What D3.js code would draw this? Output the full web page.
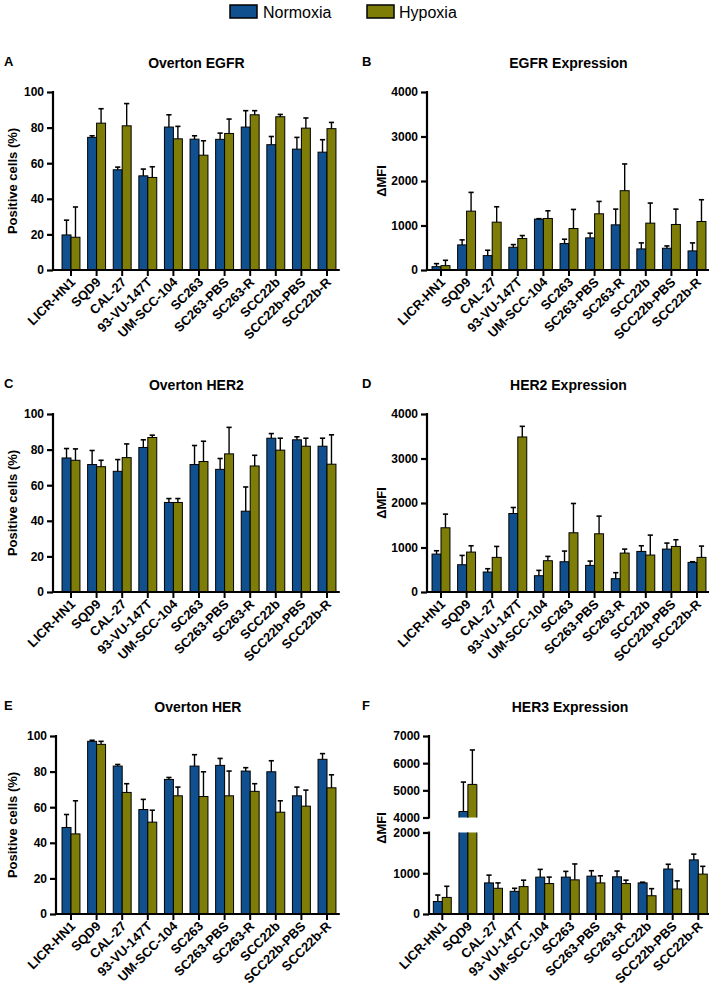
<!DOCTYPE html>
<html><head><meta charset="utf-8">
<script src="https://cdn.jsdelivr.net/npm/d3@7"></script>
<style>body{margin:0;background:#fff;} svg{display:block;font-family:'Liberation Sans',Arial,Helvetica,sans-serif;}</style>
</head><body><svg id="c" width="709" height="990"></svg>
<script>
const categories = ["LICR-HN1","SQD9","CAL-27","93-VU-147T","UM-SCC-104","SC263","SC263-PBS","SC263-R","SCC22b","SCC22b-PBS","SCC22b-R"];
const seriesNames = ["Normoxia","Hypoxia"];

// A: Overton EGFR (% positive cells)
const overtonEGFR_N    = [19.7, 74.5, 56.3, 52.9, 80.3, 73.5, 73.4, 80.3, 70.4, 67.9, 66.2];
const overtonEGFR_Nerr = [8.3, 0.9, 1.5, 3.8, 6.9, 1.9, 3.5, 9.2, 4.6, 6.6, 7.0];
const overtonEGFR_H    = [18.4, 82.5, 81.0, 52.0, 73.7, 64.5, 76.7, 87.2, 86.1, 79.7, 79.4];
const overtonEGFR_Herr = [17.0, 8.1, 12.5, 6.0, 7.0, 8.1, 8.1, 2.3, 1.3, 5.7, 3.5];
// B: EGFR Expression (ΔMFI)
const exprEGFR_N    = [75, 564, 323, 511, 1143, 594, 722, 1015, 474, 489, 429];
const exprEGFR_Nerr = [68, 113, 121, 60, 10, 98, 105, 353, 135, 52, 180];
const exprEGFR_H    = [98, 1323, 1075, 707, 1158, 932, 1263, 1782, 1053, 1023, 1090];
const exprEGFR_Herr = [120, 421, 346, 67, 173, 429, 278, 601, 451, 345, 489];
// C: Overton HER2
const overtonHER2_N    = [75.3, 71.6, 67.8, 81.2, 50.3, 71.6, 68.9, 45.4, 86.4, 85.5, 81.9];
const overtonHER2_Nerr = [5.3, 7.9, 6.6, 4.3, 2.2, 10.7, 6.1, 13.6, 2.6, 1.7, 4.5];
const overtonHER2_H    = [74.0, 70.4, 75.5, 86.8, 50.3, 73.3, 77.6, 70.8, 79.7, 81.9, 71.8];
const overtonHER2_Herr = [6.4, 3.6, 7.7, 1.3, 2.2, 11.4, 14.9, 6.0, 6.7, 4.5, 16.5];
// D: HER2 Expression
const exprHER2_N    = [852, 613, 449, 1764, 366, 680, 598, 299, 912, 964, 665];
const exprHER2_Nerr = [75, 209, 74, 135, 120, 240, 97, 135, 127, 135, 15];
const exprHER2_H    = [1443, 897, 778, 3484, 703, 1331, 1308, 875, 830, 1024, 778];
const exprHER2_Herr = [307, 142, 246, 239, 97, 658, 397, 89, 448, 150, 254];
// E: Overton HER
const overtonHER_N    = [48.6, 97.0, 83.1, 58.7, 75.6, 83.1, 83.5, 80.3, 79.9, 66.4, 86.9];
const overtonHER_Nerr = [7.3, 0.6, 0.9, 5.7, 1.1, 6.4, 3.9, 1.9, 6.2, 4.9, 3.2];
const overtonHER_H    = [45.0, 95.3, 68.3, 51.6, 66.4, 66.0, 66.4, 68.9, 57.2, 60.6, 70.9];
const overtonHER_Herr = [18.6, 1.7, 4.9, 6.7, 4.9, 13.9, 13.9, 4.3, 6.4, 9.0, 7.3];
// F: HER3 Expression (broken axis)
const exprHER3_N    = [307, 4221, 763, 556, 905, 905, 929, 913, 763, 1104, 1328];
const exprHER3_Nerr = [158, 1083, 191, 75, 190, 141, 133, 141, 17, 116, 141];
const exprHER3_H    = [407, 5218, 631, 672, 747, 838, 763, 747, 448, 614, 979];
const exprHER3_Herr = [273, 1267, 132, 158, 158, 390, 175, 83, 174, 199, 191];

const pctTicks = [0, 20, 40, 60, 80, 100];
const mfiTicks = [0, 1000, 2000, 3000, 4000];
const her3LowTicks = [0, 1000, 2000];
const her3HighTicks = [4000, 5000, 6000, 7000];

const COLORS = ["#11508f", "#7d7d08"];
const svg = d3.select("#c");
const FF = "'Liberation Sans',Arial,sans-serif";

// Legend
const legend = svg.append("g");
[{x: 230, tx: 263}, {x: 367, tx: 399}].forEach((p, i) => {
  legend.append("rect").attr("x", p.x).attr("y", 5).attr("width", 27).attr("height", 13)
    .attr("fill", COLORS[i]).attr("stroke", "#000").attr("stroke-width", 1.5);
  legend.append("text").attr("x", p.tx).attr("y", 18).attr("font-size", 16).text(seriesNames[i]);
});

function panel(o) {
  const g = svg.append("g");
  const step = 25.6;
  const x = d3.scaleBand().domain(categories).range([o.bandStart, o.bandStart + step * categories.length])
    .paddingInner(0.3).paddingOuter(0.15);
  const bw = x.bandwidth();
  let segs;
  if (o.broken) {
    const yLow = d3.scaleLinear().domain([0, 2000]).range([o.bottom, o.bottom - 81.5]);
    const yHigh = d3.scaleLinear().domain([4000, 7000]).range([o.top + 81.5, o.top]);
    segs = [{s: yLow, lo: 0, hi: 2000, ticks: her3LowTicks}, {s: yHigh, lo: 4000, hi: 7000, ticks: her3HighTicks}];
  } else {
    const y = d3.scaleLinear().domain([0, o.max]).range([o.bottom, o.top]);
    segs = [{s: y, lo: 0, hi: o.max, ticks: o.ticks}];
  }
  const yv = v => { for (const sg of segs.slice().reverse()) if (v >= sg.lo) return sg.s(Math.min(v, sg.hi)); return segs[0].s(v); };

  const series = [[o.N, o.Nerr], [o.H, o.Herr]];
  series.forEach(([vals, errs], si) => {
    categories.forEach((c, i) => {
      const v = vals[i];
      const bx = x(c) + si * bw / 2, w = bw / 2;
      if (o.broken && v > 2000) {
        const low = segs[0].s, high = segs[1].s;
        g.append("rect").attr("x", bx).attr("y", low(2000)).attr("width", w).attr("height", low(0) - low(2000)).attr("fill", COLORS[si]);
        g.append("path").attr("d", `M${bx},${low(2000)}V${low(0)}H${bx + w}V${low(2000)}`).attr("fill", "none").attr("stroke", "#000").attr("stroke-width", 1);
        g.append("rect").attr("x", bx).attr("y", high(v)).attr("width", w).attr("height", high(4000) - high(v)).attr("fill", COLORS[si]);
        g.append("path").attr("d", `M${bx},${high(4000)}V${high(v)}H${bx + w}V${high(4000)}`).attr("fill", "none").attr("stroke", "#000").attr("stroke-width", 1);
      } else {
        g.append("rect").attr("x", bx).attr("y", yv(v)).attr("width", w).attr("height", yv(0) - yv(v))
          .attr("fill", COLORS[si]).attr("stroke", "#000").attr("stroke-width", 1);
      }
      const cx = bx + w / 2, yt = yv(v + errs[i]);
      g.append("line").attr("x1", cx).attr("x2", cx).attr("y1", yv(v)).attr("y2", yt).attr("stroke", "#000").attr("stroke-width", 1.4);
      g.append("line").attr("x1", cx - 2.6).attr("x2", cx + 2.6).attr("y1", yt).attr("y2", yt).attr("stroke", "#000").attr("stroke-width", 1.6);
    });
  });

  // y axis
  segs.forEach(sg => {
    const ax = g.append("g").attr("transform", `translate(${o.axisX},0)`)
      .call(d3.axisLeft(sg.s).tickValues(sg.ticks).tickSize(6).tickSizeOuter(0).tickPadding(3).tickFormat(d3.format("d")));
    ax.select(".domain").attr("stroke-width", 2.2).attr("d", `M0,${sg.s(sg.lo) + 1}V${sg.s(sg.hi) - 1}`);
    ax.selectAll(".tick line").attr("stroke-width", 2.2);
    ax.selectAll("text").attr("font-size", 12).attr("font-weight", "bold").attr("font-family", FF);
  });

  // x axis
  const y0 = o.bottom;
  const xa = g.append("g").attr("transform", `translate(0,${y0})`)
    .call(d3.axisBottom(x).tickSize(6).tickSizeOuter(0));
  xa.select(".domain").remove();
  xa.selectAll(".tick line").attr("stroke-width", 2);
  xa.selectAll("text").attr("font-size", 13).attr("font-weight", "bold")
    .attr("font-family", FF)
    .attr("text-anchor", "end").attr("dy", null).attr("y", 0)
    .attr("transform", "translate(5,13) rotate(-45)");
  g.append("line").attr("x1", o.axisX - 1).attr("x2", o.bandStart + step * categories.length)
    .attr("y1", y0).attr("y2", y0).attr("stroke", "#000").attr("stroke-width", 2.2);

  // texts
  const plotCx = (o.axisX + o.bandStart + step * categories.length) / 2;
  g.append("text").attr("x", plotCx).attr("y", o.top - 24).attr("text-anchor", "middle")
    .attr("font-size", 14).attr("font-weight", "bold").text(o.title);
  g.append("text").attr("x", o.letterX).attr("y", o.top - 26).attr("font-size", 13).attr("font-weight", "bold").text(o.letter);
  g.append("text").attr("transform", `translate(${o.ylabelX},${o.ylabelY || (o.top + o.bottom) / 2}) rotate(-90)`)
    .attr("text-anchor", "middle").attr("font-size", 13).attr("font-weight", "bold").text(o.ylabel);
}

const rows = [{top: 92, bottom: 270}, {top: 414, bottom: 592}, {top: 736, bottom: 914}];
const L = {axisX: 53, bandStart: 58.2, letterX: 4, ylabelX: 17};
const R = {axisX: 427, bandStart: 428.2, letterX: 362, ylabelX: 386};

panel({...L, ...rows[0], letter: "A", title: "Overton EGFR", ylabel: "Positive cells (%)", max: 100, ticks: pctTicks,
  N: overtonEGFR_N, Nerr: overtonEGFR_Nerr, H: overtonEGFR_H, Herr: overtonEGFR_Herr});
panel({...R, ...rows[0], letter: "B", title: "EGFR Expression", ylabel: "ΔMFI", max: 4000, ticks: mfiTicks,
  N: exprEGFR_N, Nerr: exprEGFR_Nerr, H: exprEGFR_H, Herr: exprEGFR_Herr});
panel({...L, ...rows[1], letter: "C", title: "Overton HER2", ylabel: "Positive cells (%)", max: 100, ticks: pctTicks,
  N: overtonHER2_N, Nerr: overtonHER2_Nerr, H: overtonHER2_H, Herr: overtonHER2_Herr});
panel({...R, ...rows[1], letter: "D", title: "HER2 Expression", ylabel: "ΔMFI", max: 4000, ticks: mfiTicks,
  N: exprHER2_N, Nerr: exprHER2_Nerr, H: exprHER2_H, Herr: exprHER2_Herr});
panel({...L, ...rows[2], axisX: 56, letter: "E", title: "Overton HER", ylabel: "Positive cells (%)", max: 100, ticks: pctTicks,
  N: overtonHER_N, Nerr: overtonHER_Nerr, H: overtonHER_H, Herr: overtonHER_Herr});
panel({...R, ...rows[2], axisX: 429, bandStart: 429.5, letter: "F", title: "HER3 Expression", ylabel: "ΔMFI", ylabelY: 828, broken: true,
  N: exprHER3_N, Nerr: exprHER3_Nerr, H: exprHER3_H, Herr: exprHER3_Herr});
</script></body></html>
